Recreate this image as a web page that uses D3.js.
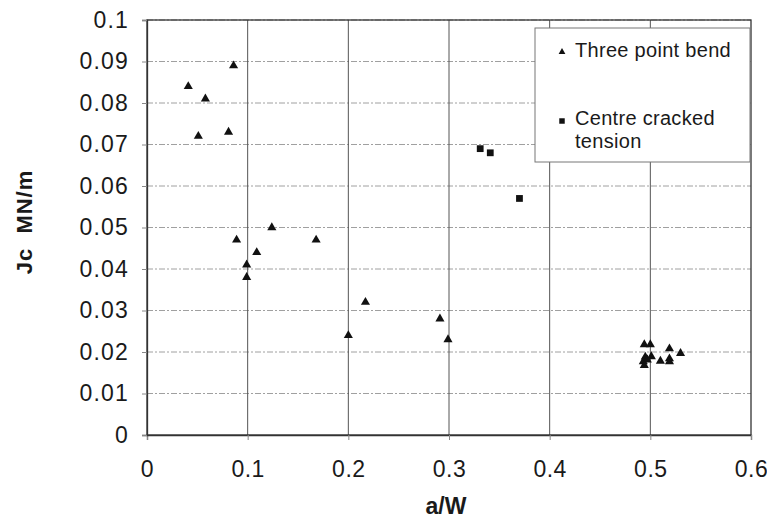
<!DOCTYPE html>
<html>
<head>
<meta charset="utf-8">
<script src="https://d3js.org/d3.v7.min.js"></script>
<style>
  body { margin: 0; background: #fff; }
  text { font-family: "Liberation Sans", Arial, sans-serif; fill: #1a1a1a; }
</style>
</head>
<body>
<svg width="767" height="524"></svg>
<script>
// three point bend specimens (a/W, Jc)
var bendX = [0.041, 0.051, 0.058, 0.081, 0.086, 0.089, 0.099, 0.099, 0.109, 0.124, 0.168,
             0.200, 0.217, 0.291, 0.299,
             0.494, 0.500, 0.495, 0.501, 0.493, 0.497, 0.494, 0.510, 0.519, 0.519, 0.519, 0.530];
var bendY = [0.084, 0.072, 0.081, 0.073, 0.089, 0.047, 0.041, 0.038, 0.044, 0.050, 0.047,
             0.024, 0.032, 0.028, 0.023,
             0.0218, 0.0218, 0.0188, 0.0189, 0.0177, 0.0181, 0.0168, 0.0178, 0.0208, 0.0184, 0.0177, 0.0197];
// centre cracked tension specimens
var cctX = [0.331, 0.341, 0.370];
var cctY = [0.069, 0.068, 0.057];

var xTicks = [0, 0.1, 0.2, 0.3, 0.4, 0.5, 0.6];
var yTicks = [0, 0.01, 0.02, 0.03, 0.04, 0.05, 0.06, 0.07, 0.08, 0.09, 0.1];
var legendLabels = [["Three point bend"], ["Centre cracked", "tension"]];

var plotL = 147, plotR = 751, plotT = 20, plotB = 435;
var svg = d3.select("svg");

var x = d3.scaleLinear().domain([0, 0.6]).range([plotL, plotR]);
var y = d3.scaleLinear().domain([0, 0.1]).range([plotB, plotT]);

// gridlines
svg.append("g").selectAll("line").data(yTicks.slice(1))
  .enter().append("line")
  .attr("x1", plotL).attr("x2", plotR)
  .attr("y1", function(d) { return y(d); }).attr("y2", function(d) { return y(d); })
  .attr("stroke", "#a0a0a0").attr("stroke-width", 1).attr("stroke-dasharray", "6,2,2,2");
svg.append("g").selectAll("line").data(xTicks.slice(1, -1))
  .enter().append("line")
  .attr("x1", function(d) { return x(d); }).attr("x2", function(d) { return x(d); })
  .attr("y1", plotT).attr("y2", plotB)
  .attr("stroke", "#555").attr("stroke-width", 1);

// plot frame
svg.append("rect")
  .attr("x", plotL).attr("y", plotT).attr("width", plotR - plotL).attr("height", plotB - plotT)
  .attr("fill", "none").attr("stroke", "#333").attr("stroke-width", 1.3);

// axes
var xAxis = svg.append("g")
  .attr("transform", "translate(0," + plotB + ")")
  .call(d3.axisBottom(x).tickValues(xTicks).tickSize(5).tickPadding(21)
        .tickFormat(function(d) { return d === 0 ? "0" : d3.format(".1f")(d); }));
var yAxis = svg.append("g")
  .attr("transform", "translate(" + plotL + ",0)")
  .call(d3.axisLeft(y).tickValues(yTicks).tickSize(5).tickPadding(13)
        .tickFormat(function(d) { return d === 0 ? "0" : (d === 0.1 ? "0.1" : d3.format(".2f")(d)); }));
[xAxis, yAxis].forEach(function(a) {
  a.select(".domain").attr("stroke", "#333").attr("stroke-width", 1.3);
  a.selectAll(".tick line").attr("stroke", "#888");
  a.selectAll("text").attr("font-size", "23px")
    .attr("fill", "#1a1a1a").attr("font-family", "Liberation Sans, Arial, sans-serif");
});
yAxis.selectAll("text").attr("letter-spacing", "1.2px");
xAxis.selectAll("text").attr("letter-spacing", "0.5px");

// axis titles
svg.append("text")
  .attr("x", 446).attr("y", 514)
  .attr("text-anchor", "middle").attr("font-size", "23px").attr("font-weight", "bold")
  .text("a/W");
svg.append("text")
  .attr("transform", "translate(32,222) rotate(-90)")
  .attr("text-anchor", "middle").attr("font-size", "22px").attr("font-weight", "bold")
  .attr("letter-spacing", "1px")
  .attr("xml:space", "preserve")
  .text("Jc  MN/m");

// points
var tri = d3.symbol().type(d3.symbolTriangle).size(36);
var sq = d3.symbol().type(d3.symbolSquare).size(46);
svg.append("g").selectAll("path").data(bendX)
  .enter().append("path")
  .attr("d", tri)
  .attr("transform", function(d, i) { return "translate(" + x(d) + "," + y(bendY[i]) + ")"; })
  .attr("fill", "#111");
svg.append("g").selectAll("path").data(cctX)
  .enter().append("path")
  .attr("d", sq)
  .attr("transform", function(d, i) { return "translate(" + x(d) + "," + y(cctY[i]) + ")"; })
  .attr("fill", "#111");

// legend
var lg = svg.append("g");
lg.append("rect")
  .attr("x", 535).attr("y", 28).attr("width", 215).attr("height", 134)
  .attr("fill", "#fff").attr("stroke", "#777").attr("stroke-width", 1);
lg.append("path").attr("d", d3.symbol().type(d3.symbolTriangle).size(20))
  .attr("transform", "translate(562,52)").attr("fill", "#111");
lg.append("path").attr("d", d3.symbol().type(d3.symbolSquare).size(30))
  .attr("transform", "translate(562,121)").attr("fill", "#111");
var legendY = [57, 125];
legendLabels.forEach(function(lines, i) {
  lines.forEach(function(s, j) {
    lg.append("text")
      .attr("x", 575).attr("y", legendY[i] + j * 23)
      .attr("font-size", "20px").attr("letter-spacing", "0.3px")
      .text(s);
  });
});
</script>
</body>
</html>
